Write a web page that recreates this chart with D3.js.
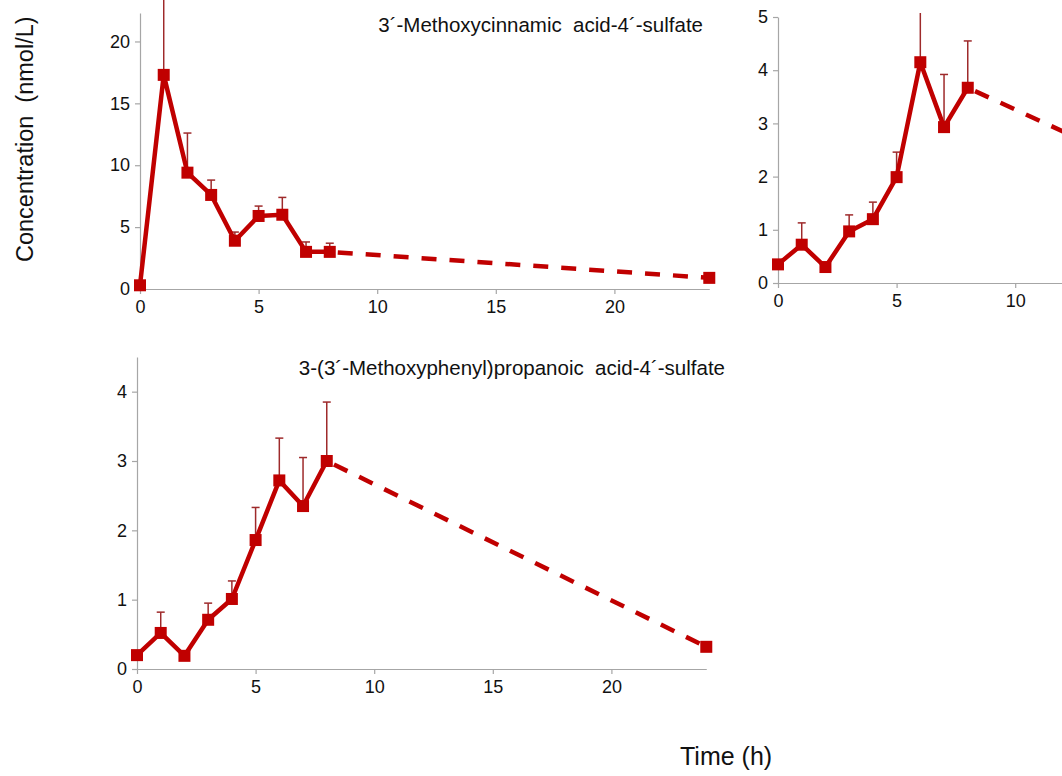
<!DOCTYPE html>
<html>
<head>
<meta charset="utf-8">
<script src="https://d3js.org/d3.v7.min.js"></script>
<style>
  body { margin: 0; background: #fff; }
  svg { display: block; font-family: "Liberation Sans", Arial, sans-serif; }
  .axis path, .axis line { stroke: #a6a6a6; stroke-width: 1.2; }
  .axis text { fill: #111; font-size: 18px; }
</style>
</head>
<body>
<div id="chart"></div>
<script>
// sampling times (h); the 24 h point is joined by a dashed line
var hours = [0, 1, 2, 3, 4, 5, 6, 7, 8];
var lastHour = 24;
var xTicks = [0, 5, 10, 15, 20];

// 3'-Methoxycinnamic acid-4'-sulfate
var cinnamicMean = [0.3, 17.3, 9.4, 7.6, 3.9, 5.9, 6.0, 3.0, 3.0];
var cinnamicErr  = [0, 7.5, 3.2, 1.2, 0.7, 0.8, 1.4, 0.8, 0.7];
var cinnamicLast = 0.9;
var cinnamicTicks = [0, 5, 10, 15, 20];

// second metabolite (title cut off in the figure)
var secondMean = [0.35, 0.72, 0.3, 0.97, 1.2, 1.99, 4.15, 2.93, 3.67];
var secondErr  = [0, 0.41, 0, 0.31, 0.32, 0.47, 1.0, 0.99, 0.88];
var secondLast = 0.4;
var secondTicks = [0, 1, 2, 3, 4, 5];

// 3-(3'-Methoxyphenyl)propanoic acid-4'-sulfate
var propanoicMean = [0.2, 0.52, 0.19, 0.71, 1.01, 1.86, 2.72, 2.35, 3.0];
var propanoicErr  = [0, 0.30, 0, 0.24, 0.26, 0.47, 0.61, 0.70, 0.85];
var propanoicLast = 0.32;
var propanoicTicks = [0, 1, 2, 3, 4];

var red = "#c00000";
var errColor = "#9e2a2b";
var W = 1062, H = 776;

var svg = d3.select("#chart").append("svg")
    .attr("width", W)
    .attr("height", H);

var panels = [
  { left: 140, bottom: 289, top: 13, yMax: 22.3, clipTop: -50,
    mean: cinnamicMean, err: cinnamicErr, last: cinnamicLast, ticks: cinnamicTicks,
    title: "3\u00b4-Methoxycinnamic  acid-4\u00b4-sulfate", titleX: 703, titleY: 32 },
  { left: 778, bottom: 283, top: 17, yMax: 5, clipTop: 13,
    mean: secondMean, err: secondErr, last: secondLast, ticks: secondTicks,
    title: null },
  { left: 137, bottom: 669, top: 357, yMax: 4.5, clipTop: -50,
    mean: propanoicMean, err: propanoicErr, last: propanoicLast, ticks: propanoicTicks,
    title: "3-(3\u00b4-Methoxyphenyl)propanoic  acid-4\u00b4-sulfate", titleX: 725, titleY: 375 }
];

var pxPerHour = 23.72;

panels.forEach(function(p, i) {
  var x = d3.scaleLinear()
    .domain([0, lastHour])
    .range([p.left, p.left + lastHour * pxPerHour]);
  var y = d3.scaleLinear()
    .domain([0, p.yMax])
    .range([p.bottom, p.top]);

  var g = svg.append("g");

  g.append("clipPath").attr("id", "clip" + i)
    .append("rect")
      .attr("x", p.left - 20).attr("y", p.clipTop)
      .attr("width", 700).attr("height", p.bottom - p.clipTop + 20);

  // only the ticks that fall inside the page
  var visibleX = xTicks.filter(function(t) { return x(t) < W - 12; });

  g.append("g")
    .attr("class", "axis")
    .attr("transform", "translate(0," + p.bottom + ")")
    .call(d3.axisBottom(x).tickValues(visibleX).tickFormat(d3.format("d"))
      .tickSize(5).tickSizeOuter(0).tickPadding(6));
  g.append("g")
    .attr("class", "axis")
    .attr("transform", "translate(" + p.left + ",0)")
    .call(d3.axisLeft(y).tickValues(p.ticks).tickFormat(d3.format("d"))
      .tickSize(5).tickSizeOuter(0).tickPadding(5));

  var pts = hours.map(function(h, k) { return { t: h, v: p.mean[k], e: p.err[k] }; });
  var plot = g.append("g").attr("clip-path", "url(#clip" + i + ")");

  // error bars (upper only)
  var bars = plot.selectAll(".err")
    .data(pts.filter(function(d) { return d.e > 0; }))
    .enter().append("g");
  bars.append("line")
    .attr("x1", function(d) { return x(d.t); })
    .attr("x2", function(d) { return x(d.t); })
    .attr("y1", function(d) { return y(d.v); })
    .attr("y2", function(d) { return y(d.v + d.e); })
    .attr("stroke", errColor).attr("stroke-width", 1.5);
  bars.append("line")
    .attr("x1", function(d) { return x(d.t) - 4; })
    .attr("x2", function(d) { return x(d.t) + 4; })
    .attr("y1", function(d) { return y(d.v + d.e); })
    .attr("y2", function(d) { return y(d.v + d.e); })
    .attr("stroke", errColor).attr("stroke-width", 1.5);

  var line = d3.line()
    .x(function(d) { return x(d.t); })
    .y(function(d) { return y(d.v); });

  // dashed extrapolation to 24 h
  var lastPt = pts[pts.length - 1];
  plot.append("path")
    .datum([lastPt, { t: lastHour, v: p.last }])
    .attr("d", line)
    .attr("fill", "none")
    .attr("stroke", red)
    .attr("stroke-width", 4.5)
    .attr("stroke-dasharray", "15,13")
    .attr("stroke-dashoffset", -8);

  plot.append("path")
    .datum(pts)
    .attr("d", line)
    .attr("fill", "none")
    .attr("stroke", red)
    .attr("stroke-width", 4.5)
    .attr("stroke-linejoin", "round");

  plot.selectAll(".pt")
    .data(pts.concat([{ t: lastHour, v: p.last }]))
    .enter().append("rect")
      .attr("x", function(d) { return x(d.t) - 6; })
      .attr("y", function(d) { return y(d.v) - 6; })
      .attr("width", 12).attr("height", 12)
      .attr("fill", red);

  if (p.title) {
    g.append("text")
      .attr("x", p.titleX).attr("y", p.titleY)
      .attr("text-anchor", "end")
      .attr("font-size", 20.5)
      .attr("fill", "#111")
      .style("white-space", "pre")
      .text(p.title);
  }
});

// shared axis titles
svg.append("text")
  .attr("transform", "translate(33,262) rotate(-90)")
  .attr("font-size", 23.5)
  .attr("fill", "#111")
  .style("white-space", "pre")
  .text("Concentration  (nmol/L)");

svg.append("text")
  .attr("x", 680).attr("y", 765)
  .attr("font-size", 25)
  .attr("fill", "#111")
  .text("Time (h)");
</script>
</body>
</html>
